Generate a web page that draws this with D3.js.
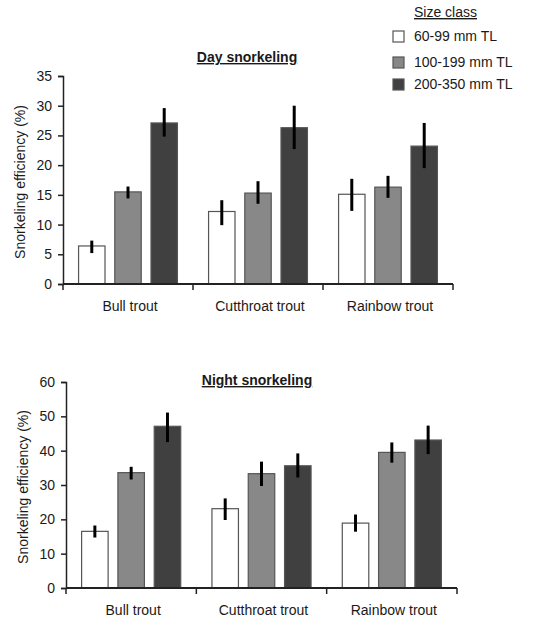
<!DOCTYPE html>
<html>
<head>
<meta charset="utf-8">
<title>Snorkeling efficiency</title>
<script src="https://d3js.org/d3.v7.min.js"></script>
<style>
  body { margin: 0; background: #fff; }
  text { font-family: "Liberation Sans", Arial, sans-serif; fill: #1a1a1a; }
</style>
</head>
<body>
<script>
// データ
var species = ["Bull trout", "Cutthroat trout", "Rainbow trout"];
var sizeClasses = ["60-99 mm TL", "100-199 mm TL", "200-350 mm TL"];
var fills = ["#ffffff", "#888888", "#404040"];

// 昼（値, 下限, 上限）: species ごとに sizeClasses の順
var dayMean = [[6.4, 15.5, 27.1], [12.2, 15.3, 26.3], [15.1, 16.3, 23.2]];
var dayLow  = [[5.2, 14.4, 24.8], [9.9, 13.5, 22.7], [12.3, 14.5, 19.5]];
var dayHigh = [[7.3, 16.4, 29.6], [14.1, 17.3, 30.0], [17.7, 18.2, 27.1]];
var dayTicks = [0, 5, 10, 15, 20, 25, 30, 35];

// 夜
var nightMean = [[16.5, 33.6, 47.1], [23.1, 33.3, 35.6], [18.9, 39.5, 43.1]];
var nightLow  = [[14.7, 31.6, 42.5], [19.8, 29.7, 32.2], [16.4, 36.5, 39.0]];
var nightHigh = [[18.2, 35.3, 51.1], [26.1, 36.8, 39.2], [21.4, 42.4, 47.3]];
var nightTicks = [0, 10, 20, 30, 40, 50, 60];

var svg = d3.select("body").append("svg")
    .attr("width", 544)
    .attr("height", 618);

function drawPanel(opt) {
    var g = svg.append("g");

    var x0 = d3.scaleBand()
        .domain(species)
        .range([opt.left, opt.right]);

    var x1 = d3.scaleBand()
        .domain(sizeClasses)
        .range([0, x0.bandwidth()])
        .paddingInner(0.27)
        .paddingOuter(0.43);

    var y = d3.scaleLinear()
        .domain([0, opt.max])
        .range([opt.bottom, opt.top]);

    // 棒
    species.forEach(function(sp, i) {
        var rows = sizeClasses.map(function(sc, j) {
            return { sc: sc, j: j, v: opt.mean[i][j], lo: opt.low[i][j], hi: opt.high[i][j] };
        });
        var grp = g.append("g").attr("transform", "translate(" + x0(sp) + ",0)");

        grp.selectAll("rect")
            .data(rows)
            .enter()
            .append("rect")
            .attr("x", function(d) { return x1(d.sc); })
            .attr("y", function(d) { return y(d.v); })
            .attr("width", x1.bandwidth())
            .attr("height", function(d) { return y(0) - y(d.v); })
            .style("fill", function(d) { return fills[d.j]; })
            .style("stroke", "#555")
            .style("stroke-width", 1.2);

        // エラーバー
        grp.selectAll("line.err")
            .data(rows)
            .enter()
            .append("line")
            .attr("class", "err")
            .attr("x1", function(d) { return x1(d.sc) + x1.bandwidth() / 2; })
            .attr("x2", function(d) { return x1(d.sc) + x1.bandwidth() / 2; })
            .attr("y1", function(d) { return y(d.lo); })
            .attr("y2", function(d) { return y(d.hi); })
            .style("stroke", "#000")
            .style("stroke-width", 3);
    });

    // Y軸
    var yAxis = d3.axisLeft(y).tickValues(opt.ticks).tickSize(5).tickSizeOuter(5).tickPadding(6);
    var ya = g.append("g")
        .attr("transform", "translate(" + opt.left + ",0)")
        .call(yAxis);
    ya.select(".domain").style("stroke", "#222").style("stroke-width", 1.5);
    ya.selectAll(".tick line").style("stroke", "#222").style("stroke-width", 1.5);
    ya.selectAll("text").style("font-size", "14px").style("fill", "#1a1a1a");

    // X軸（カテゴリ境界に目盛り）
    var edges = species.map(function(s) { return x0(s); }).concat([opt.right]);
    g.append("line")
        .attr("x1", opt.left).attr("x2", opt.right)
        .attr("y1", y(0)).attr("y2", y(0))
        .style("stroke", "#222").style("stroke-width", 1.8);
    g.selectAll("line.xtick")
        .data(edges)
        .enter()
        .append("line")
        .attr("class", "xtick")
        .attr("x1", function(d) { return d; })
        .attr("x2", function(d) { return d; })
        .attr("y1", y(0))
        .attr("y2", y(0) + 6)
        .style("stroke", "#222").style("stroke-width", 1.5);

    g.selectAll("text.cat")
        .data(species)
        .enter()
        .append("text")
        .attr("class", "cat")
        .attr("x", function(d) { return x0(d) + x0.bandwidth() / 2 + 2; })
        .attr("y", y(0) + 27)
        .attr("text-anchor", "middle")
        .style("font-size", "14px")
        .text(function(d) { return d; });

    // Y軸ラベル
    g.append("text")
        .attr("transform", "translate(" + (opt.left - 38) + "," + ((opt.top + opt.bottom) / 2 + 2) + ") rotate(-90)")
        .attr("text-anchor", "middle")
        .style("font-size", "14px")
        .text("Snorkeling efficiency (%)");

    // タイトル（下線付き）
    g.append("text")
        .attr("x", opt.titleX)
        .attr("y", opt.titleY)
        .attr("text-anchor", "middle")
        .style("font-size", "14px")
        .style("font-weight", "bold")
        .style("text-decoration", "underline")
        .text(opt.title);
}

drawPanel({
    left: 63, right: 453, top: 76, bottom: 284, max: 35,
    mean: dayMean, low: dayLow, high: dayHigh, ticks: dayTicks,
    title: "Day snorkeling", titleX: 247, titleY: 62
});

drawPanel({
    left: 66, right: 457, top: 382, bottom: 588, max: 60,
    mean: nightMean, low: nightLow, high: nightHigh, ticks: nightTicks,
    title: "Night snorkeling", titleX: 257, titleY: 385
});

// 凡例
var legend = svg.append("g");
legend.append("text")
    .attr("x", 414)
    .attr("y", 17)
    .style("font-size", "14px")
    .style("text-decoration", "underline")
    .text("Size class");

var legendY = [36, 62, 84];
var items = legend.selectAll("g.item")
    .data(sizeClasses)
    .enter()
    .append("g")
    .attr("class", "item")
    .attr("transform", function(d, i) { return "translate(0," + legendY[i] + ")"; });

items.append("rect")
    .attr("x", 393)
    .attr("y", -5)
    .attr("width", 11)
    .attr("height", 11)
    .style("fill", function(d, i) { return fills[i]; })
    .style("stroke", "#555")
    .style("stroke-width", 1.2);

items.append("text")
    .attr("x", 414)
    .attr("y", 5)
    .style("font-size", "14px")
    .text(function(d) { return d; });
</script>
</body>
</html>
